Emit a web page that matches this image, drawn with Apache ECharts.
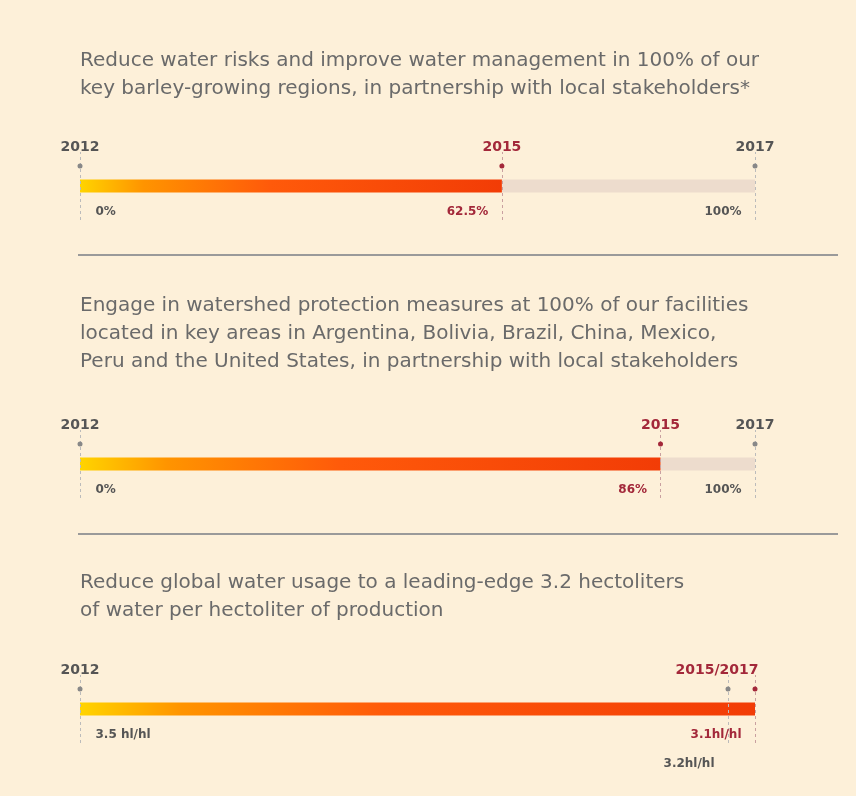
<!DOCTYPE html><html><head><meta charset="utf-8"><script src="https://cdn.jsdelivr.net/npm/echarts@6/dist/echarts.min.js"></script>
<style>html,body{margin:0;background:#fdf0d9}#c{width:856px;height:796px}</style></head><body><div id="c"></div><script>
const titles=["Reduce water risks and improve water management in 100% of our\nkey barley-growing regions, in partnership with local stakeholders*",
"Engage in watershed protection measures at 100% of our facilities\nlocated in key areas in Argentina, Bolivia, Brazil, China, Mexico,\nPeru and the United States, in partnership with local stakeholders",
"Reduce global water usage to a leading-edge 3.2 hectoliters\nof water per hectoliter of production"];
const progress=[62.5,86,100];
const startLabels=["0%","0%","3.5 hl/hl"];
const currentLabels=["62.5%","86%","3.1hl/hl"];
const targetLabels=["100%","100%","3.2hl/hl"];
const targetPos=[100,100,96];
const currentYear=["2015","2015","2015/2017"];
const gridTops=[152,430,675];
const titleTops=[47,292,569];
const grey='#555',red='#a3283a';
const F='"DejaVu Sans"';
const grids=[],xA=[],yA=[],series=[];
progress.forEach((p,i)=>{
 grids.push({left:80,width:675,top:gridTops[i],height:68});
 xA.push({gridIndex:i,type:'value',min:0,max:100,show:false});
 yA.push({gridIndex:i,type:'category',data:['a'],show:false});
 const last=i===2;
 const lab=(t,c,extra)=>Object.assign({show:true,formatter:t,color:c,fontWeight:'bold',fontSize:12,fontFamily:F},extra);
 const yl=(t,c,off)=>lab(t,c,{fontSize:14,position:'end',distance:-2,offset:off||[0,0]});
 const ml=[{xAxis:0,label:yl('2012',grey),lineStyle:{color:'#bbb'}}];
 if(!last){
  ml.push({xAxis:p,label:yl(currentYear[i],red),lineStyle:{color:'#c9a0a0'}});
  ml.push({xAxis:100,label:yl('2017',grey),lineStyle:{color:'#bbb'}});
 } else {
  ml.push({xAxis:100,label:yl(currentYear[i],red,[-38,0]),lineStyle:{color:'#c9a0a0'}});
  ml.push({xAxis:targetPos[i],label:{show:false},lineStyle:{color:'#bbb'}});
 }
 const mp=[];
 const dot=(x,c)=>({coord:[x,'a'],symbol:'circle',symbolSize:5,symbolOffset:[0,-20],itemStyle:{color:c},label:{show:false}});
 mp.push(dot(0,'#888'));
 if(!last){mp.push(dot(p,red));mp.push(dot(100,'#888'));}
 else {mp.push(dot(targetPos[i],'#888'));mp.push(dot(100,red));}
 const txt=(x,t,c,pos,off)=>({coord:[x,'a'],symbol:'circle',symbolSize:1,itemStyle:{color:'rgba(0,0,0,0)'},label:lab(t,c,{position:pos,offset:off})});
 mp.push(txt(0,startLabels[i],grey,'right',[10,26]));
 mp.push(txt(last?100:p,currentLabels[i],red,'left',[-8,26]));
 mp.push(txt(targetPos[i],targetLabels[i],grey,'left',last?[-8,55]:[-8,26]));
 series.push({type:'bar',xAxisIndex:i,yAxisIndex:i,stack:'s'+i,data:[p],barWidth:13,silent:true,
  itemStyle:{color:new echarts.graphic.LinearGradient(0,0,1,0,[{offset:0,color:'#ffd400'},{offset:0.15,color:'#ff9400'},{offset:0.45,color:'#ff5a0a'},{offset:1,color:'#f23c06'}])},
  markLine:{symbol:'none',silent:true,lineStyle:{type:[3,3],width:1},data:ml},
  markPoint:{silent:true,data:mp},z:3});
 series.push({type:'bar',xAxisIndex:i,yAxisIndex:i,stack:'s'+i,data:[100-p],barWidth:13,silent:true,itemStyle:{color:'#eddccd'}});
});
const graphic=titles.map((t,i)=>({type:'text',left:80,top:titleTops[i],style:{text:t,fill:'#6a6a6a',font:'20px '+F,lineHeight:28}}));
[255,534].forEach(y=>graphic.push({type:'line',shape:{x1:78,y1:y,x2:838,y2:y},style:{stroke:'#9a9a9a',lineWidth:2}}));
const ch=echarts.init(document.getElementById('c'));
ch.setOption({backgroundColor:'#fdf0d9',animation:false,grid:grids,xAxis:xA,yAxis:yA,series,graphic});
</script></body></html>
